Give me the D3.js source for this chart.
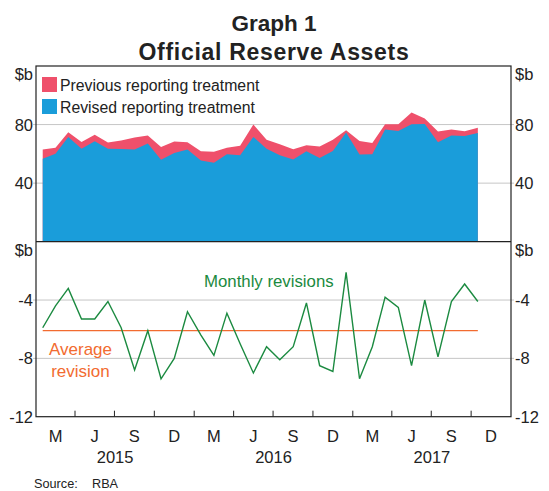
<!DOCTYPE html>
<html>
<head>
<meta charset="utf-8">
<script src="https://cdn.jsdelivr.net/npm/d3@7"></script>
<style>
  body { margin: 0; background: #fff; }
  svg { font-family: Arial, "Liberation Sans", sans-serif; }
</style>
</head>
<body>
<div class="chart"></div>
<script>
// monthly data, Jan 2015 to Oct 2017
var previous = [62.9, 64.2, 74.7, 68.1, 73.1, 67.7, 69.2, 71.1, 72.5, 64.7, 68.4, 67.9,
                61.7, 61.5, 64.2, 65.6, 80.0, 69.7, 66.5, 63.1, 65.8, 65.1, 69.7, 76.1,
                68.8, 67.4, 80.2, 80.2, 88.2, 84.1, 75.2, 76.6, 75.4, 77.9];
var revised = [56.7, 60.1, 71.5, 63.5, 68.6, 63.5, 63.3, 62.9, 67.0, 56.0, 60.5, 62.9,
               55.5, 54.0, 59.7, 59.0, 71.5, 63.5, 59.0, 56.2, 61.7, 57.1, 61.9, 74.5,
               59.5, 59.7, 76.6, 75.6, 80.2, 80.4, 67.9, 72.5, 72.2, 74.2];
var revisions = [-5.9, -4.4, -3.2, -5.3, -5.3, -4.1, -5.9, -8.8, -6.1, -9.4, -8.0, -4.8,
                 -6.4, -7.8, -4.9, -7.0, -9.0, -7.2, -8.1, -7.2, -4.2, -8.5, -8.9, -2.1,
                 -9.4, -7.2, -3.8, -4.5, -8.5, -4.0, -7.9, -4.1, -2.9, -4.1];
var averageRevision = -6.1;

var topTicks = [40, 80];
var bottomTicks = [-4, -8];
var quarterLabels = ["M", "J", "S", "D"];
var years = [2015, 2016, 2017];

var months = d3.range(revisions.length).map(function(i){
  var a = new Date(2015, i, 1), b = new Date(2015, i + 1, 1);
  return new Date((a.getTime() + b.getTime()) / 2);
});

var W = 549, H = 491;
var left = 36, right = 511;
var topY = 66, midY = 241.7, botY = 416.7;
var ink = "#222";

var svg = d3.select(".chart").append("svg").attr("width", W).attr("height", H);

var x = d3.scaleTime()
  .domain([new Date(2015, 0, 1), new Date(2018, 0, 1)])
  .range([left, right]);

var yTop = d3.scaleLinear().domain([0, 120]).range([midY, topY]);
var yBot = d3.scaleLinear().domain([-12, 0]).range([botY, midY]);

//Titles
svg.append("text").attr("x", 274).attr("y", 31).attr("text-anchor", "middle")
  .style("font-size", "22.5px").style("font-weight", "bold").attr("fill", ink).text("Graph 1");
svg.append("text").attr("x", 274).attr("y", 60).attr("text-anchor", "middle")
  .style("font-size", "23px").style("font-weight", "bold").style("letter-spacing", "0.7px")
  .attr("fill", ink).text("Official Reserve Assets");

//Gridlines
svg.selectAll(".gt").data(topTicks).enter().append("line")
  .attr("x1", left - 3).attr("x2", right + 3)
  .attr("y1", function(d){ return yTop(d); }).attr("y2", function(d){ return yTop(d); })
  .attr("stroke", "#c6c6c6").attr("stroke-width", 1);
svg.selectAll(".gb").data(bottomTicks).enter().append("line")
  .attr("x1", left - 3).attr("x2", right + 3)
  .attr("y1", function(d){ return yBot(d); }).attr("y2", function(d){ return yBot(d); })
  .attr("stroke", "#c6c6c6").attr("stroke-width", 1);

//Areas
var areaPrev = d3.area()
  .x(function(d, i){ return x(months[i]); })
  .y0(yTop(0))
  .y1(function(d){ return yTop(d); });

svg.append("path").attr("fill", "#ef506b").attr("d", areaPrev(previous));
svg.append("path").attr("fill", "#1a9dda").attr("d", areaPrev(revised));

//Revision line
var line = d3.line()
  .x(function(d, i){ return x(months[i]); })
  .y(function(d){ return yBot(d); });

svg.append("line")
  .attr("x1", x(months[0])).attr("x2", x(months[months.length - 1]))
  .attr("y1", yBot(averageRevision)).attr("y2", yBot(averageRevision))
  .attr("stroke", "#f26b30").attr("stroke-width", 1.3);

svg.append("path").attr("fill", "none").attr("stroke", "#1b8a40")
  .attr("stroke-width", 1.4).attr("d", line(revisions));

//Frames
svg.append("rect").attr("x", left).attr("y", topY)
  .attr("width", right - left).attr("height", botY - topY)
  .attr("fill", "none").attr("stroke", ink).attr("stroke-width", 1.2);
svg.append("line").attr("x1", left).attr("x2", right).attr("y1", midY).attr("y2", midY)
  .attr("stroke", ink).attr("stroke-width", 1.2);

//x ticks at quarter boundaries
var qTicks = d3.timeMonth.every(3).range(new Date(2015, 3, 1), new Date(2018, 0, 1));
svg.selectAll(".xt").data(qTicks).enter().append("line")
  .attr("x1", function(d){ return x(d); }).attr("x2", function(d){ return x(d); })
  .attr("y1", botY).attr("y2", botY - 6)
  .attr("stroke", ink).attr("stroke-width", 1);

//quarter labels centred in each quarter
var quarters = d3.timeMonth.every(3).range(new Date(2015, 0, 1), new Date(2018, 0, 1));
svg.selectAll(".ql").data(quarters).enter().append("text")
  .attr("x", function(d){ return (x(d) + x(d3.timeMonth.offset(d, 3))) / 2; })
  .attr("y", 442).attr("text-anchor", "middle")
  .style("font-size", "16.5px").attr("fill", ink)
  .text(function(d, i){ return quarterLabels[i % 4]; });

svg.selectAll(".yl").data(years).enter().append("text")
  .attr("x", function(d){ return (x(new Date(d, 0, 1)) + x(new Date(d + 1, 0, 1))) / 2; })
  .attr("y", 463).attr("text-anchor", "middle")
  .style("font-size", "16.5px").attr("fill", ink)
  .text(function(d){ return d; });

//y labels, both sides
function yLabels(vals, scale, unitY) {
  [[33, "end"], [515, "start"]].forEach(function(side){
    svg.selectAll(null).data(vals).enter().append("text")
      .attr("x", side[0]).attr("y", function(d){ return scale(d) + 6; })
      .attr("text-anchor", side[1]).style("font-size", "16.5px").attr("fill", ink)
      .text(function(d){ return d; });
    svg.append("text").attr("x", side[0]).attr("y", unitY + 6)
      .attr("text-anchor", side[1]).style("font-size", "16.5px").attr("fill", ink)
      .text("$b");
  });
}
yLabels(topTicks, yTop, yTop(120) + 8);
yLabels(bottomTicks.concat([-12]), yBot, yBot(0) + 8);

//Legend
var legend = [["Previous reporting treatment", "#ef506b"], ["Revised reporting treatment", "#1a9dda"]];
legend.forEach(function(l, i){
  svg.append("rect").attr("x", 42).attr("y", 77 + i * 22).attr("width", 15).attr("height", 15)
    .attr("fill", l[1]);
  svg.append("text").attr("x", 60).attr("y", 90.5 + i * 22)
    .style("font-size", "15.8px").attr("fill", ink).text(l[0]);
});

//Annotations
svg.append("text").attr("x", 204).attr("y", 287)
  .style("font-size", "16.8px").attr("fill", "#1b8a40").text("Monthly revisions");
svg.append("text").attr("x", 80.5).attr("y", 355).attr("text-anchor", "middle")
  .style("font-size", "17px").attr("fill", "#f26b30").text("Average");
svg.append("text").attr("x", 80.5).attr("y", 377).attr("text-anchor", "middle")
  .style("font-size", "17px").attr("fill", "#f26b30").text("revision");

//Source
svg.append("text").attr("x", 34).attr("y", 488)
  .style("font-size", "12.7px").attr("fill", ink).text("Source:");
svg.append("text").attr("x", 92).attr("y", 488)
  .style("font-size", "12.7px").attr("fill", ink).text("RBA");
</script>
</body>
</html>
